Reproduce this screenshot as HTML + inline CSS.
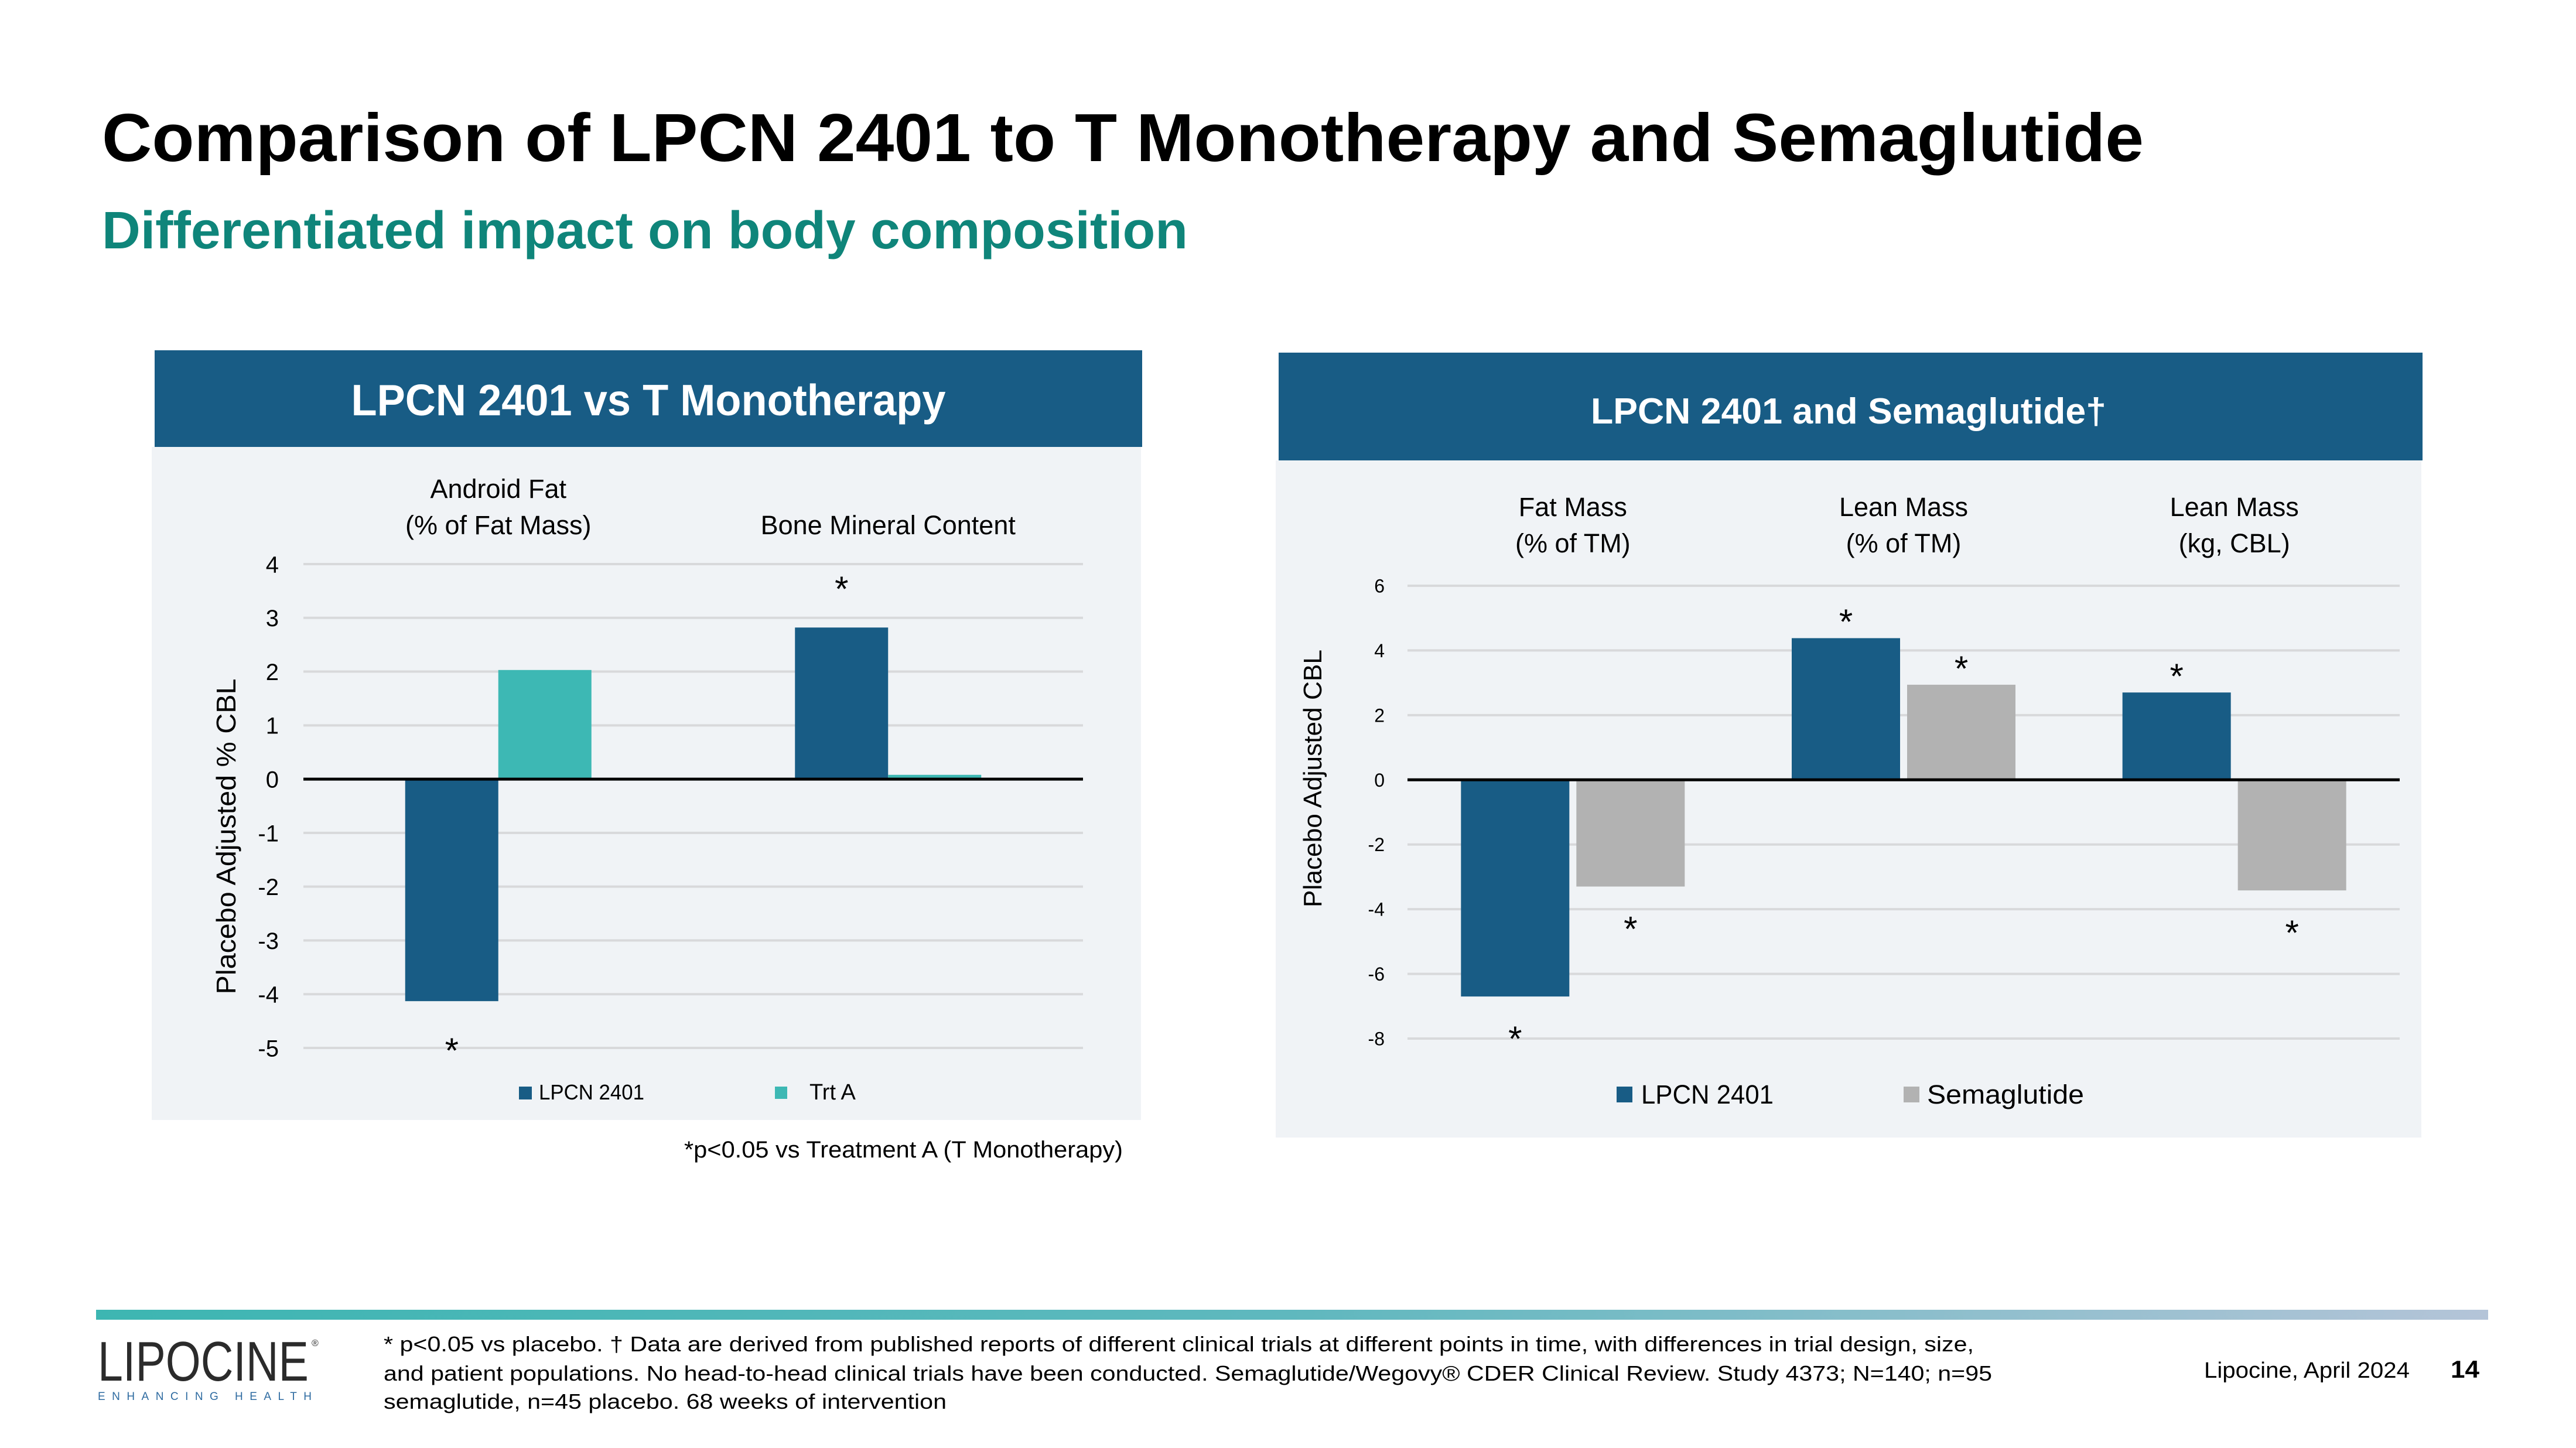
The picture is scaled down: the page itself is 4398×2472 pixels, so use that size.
<!DOCTYPE html>
<html><head><meta charset="utf-8"><style>
html,body{margin:0;padding:0;background:#fff;}
svg{display:block;font-family:"Liberation Sans",sans-serif;}
</style></head><body>
<svg id="slide" width="4398" height="2472" viewBox="0 0 4398 2472" xmlns="http://www.w3.org/2000/svg">
<defs><linearGradient id="fg" x1="0" x2="1" y1="0" y2="0"><stop offset="0" stop-color="#3db6b2"/><stop offset="0.5" stop-color="#5fb8be"/><stop offset="1" stop-color="#b4c4d8"/></linearGradient></defs>
<rect width="4398" height="2472" fill="#fff"/>
<text x="174" y="275" font-size="116" font-weight="bold" fill="#000" textLength="3486" lengthAdjust="spacingAndGlyphs">Comparison of LPCN 2401 to T Monotherapy and Semaglutide</text>
<text x="174" y="424" font-size="90" font-weight="bold" fill="#0f857a" textLength="1854" lengthAdjust="spacingAndGlyphs">Differentiated impact on body composition</text>

<g id="left">
<rect x="259" y="763" width="1689" height="1149" fill="#f0f3f6"/>
<rect x="264" y="598" width="1686" height="165" fill="#185c85"/>
<text x="1107" y="709" font-size="75" font-weight="bold" fill="#fff" text-anchor="middle" textLength="1015" lengthAdjust="spacingAndGlyphs">LPCN 2401 vs T Monotherapy</text>
<text transform="translate(402,1428) rotate(-90)" font-size="46" fill="#000" text-anchor="middle" textLength="539" lengthAdjust="spacingAndGlyphs">Placebo Adjusted % CBL</text>
<g id="lgrid"></g><g id="lbars"></g>
<rect x="886" y="1855" width="22" height="22" fill="#185c85"/>
<text x="920" y="1877" font-size="36" fill="#000" textLength="180" lengthAdjust="spacingAndGlyphs">LPCN 2401</text>
<rect x="1323" y="1855" width="21" height="21" fill="#3db8b4"/>
<text x="1382" y="1877" font-size="38" fill="#000">Trt A</text>
<text x="1917" y="1976" font-size="40" fill="#000" text-anchor="end" textLength="749" lengthAdjust="spacingAndGlyphs">*p&lt;0.05 vs Treatment A (T Monotherapy)</text>
</g>

<g id="right">
<rect x="2178" y="786" width="1956" height="1156" fill="#f0f3f6"/>
<rect x="2183" y="602" width="1953" height="184" fill="#185c85"/>
<text x="3156" y="723" font-size="62" font-weight="bold" fill="#fff" text-anchor="middle" textLength="880" lengthAdjust="spacingAndGlyphs">LPCN 2401 and Semaglutide†</text>
<text transform="translate(2256,1329) rotate(-90)" font-size="44" fill="#000" text-anchor="middle" textLength="440" lengthAdjust="spacingAndGlyphs">Placebo Adjusted CBL</text>
<g id="rgrid"></g><g id="rbars"></g>
<rect x="2760" y="1855" width="27" height="27" fill="#185c85"/>
<text x="2802" y="1884" font-size="45" fill="#000" textLength="226" lengthAdjust="spacingAndGlyphs">LPCN 2401</text>
<rect x="3250" y="1855" width="27" height="27" fill="#b2b2b2"/>
<text x="3290" y="1884" font-size="45" fill="#000" textLength="268" lengthAdjust="spacingAndGlyphs">Semaglutide</text>
</g>

<rect x="164" y="2236" width="4084" height="17" fill="url(#fg)"/>
<text x="167" y="2357" font-size="96" fill="#2b2b2b" textLength="360" lengthAdjust="spacingAndGlyphs">LIPOCINE</text>
<text x="532" y="2298" font-size="16" fill="#2b2b2b">®</text>
<text x="167" y="2390" font-size="19" fill="#2d6aa0" textLength="365" lengthAdjust="spacing">ENHANCING HEALTH</text>
<text x="655" y="2307" font-size="36" fill="#000" textLength="2715" lengthAdjust="spacingAndGlyphs">* p&lt;0.05 vs placebo. † Data are derived from published reports of different clinical trials at different points in time, with differences in trial design, size,</text>
<text x="655" y="2357" font-size="36" fill="#000" textLength="2746" lengthAdjust="spacingAndGlyphs">and patient populations. No head-to-head clinical trials have been conducted.  Semaglutide/Wegovy® CDER Clinical Review. Study 4373; N=140; n=95</text>
<text x="655" y="2405" font-size="36" fill="#000" textLength="961" lengthAdjust="spacingAndGlyphs">semaglutide, n=45 placebo. 68 weeks of intervention</text>
<text x="3763" y="2352" font-size="38" fill="#000" textLength="351" lengthAdjust="spacingAndGlyphs">Lipocine, April 2024</text>
<text x="4184" y="2352" font-size="42" font-weight="bold" fill="#000" textLength="49" lengthAdjust="spacingAndGlyphs">14</text>
</svg>
<script>
// Left chart data
const leftCategories = [["Android Fat","(% of Fat Mass)"],["Bone Mineral Content"]];
const leftLpcn = [-4.13, 2.82];
const leftTrtA = [2.03, 0.08];
const leftLpcnSig = [true, true];
const leftTicks = [4,3,2,1,0,-1,-2,-3,-4,-5];
// Right chart data
const rightCategories = [["Fat Mass","(% of TM)"],["Lean Mass","(% of TM)"],["Lean Mass","(kg, CBL)"]];
const rightLpcn = [-6.70, 4.38, 2.70];
const rightSema = [-3.30, 2.94, -3.42];
const rightLpcnSig = [true, true, true];
const rightSemaSig = [true, true, true];
const rightTicks = [6,4,2,0,-2,-4,-6,-8];

const NS = "http://www.w3.org/2000/svg";
function mk(tag, attrs, parent, txt){
  const e = document.createElementNS(NS, tag);
  for (const k in attrs) e.setAttribute(k, attrs[k]);
  if (txt !== undefined) e.textContent = txt;
  parent.appendChild(e); return e;
}
function drawChart(cfg){
  const {grid, bars, x0, x1, yTop, yBot, vMax, vMin, ticks, cats, s1, s2, c1, c2, barW, gap, tickX, tickFs, catFs, catY1, catY2, sig1, sig2, astFs, n1, n2, posOff, negOff} = cfg;
  const y = v => yTop + (vMax - v) * (yBot - yTop) / (vMax - vMin);
  const cw = (x1 - x0) / cats.length;
  ticks.forEach(t => {
    if (t !== 0) {
      const l = mk('line', {x1:x0, x2:x1, y1:y(t), y2:y(t), stroke:'#d8d9db', 'stroke-width':4}, grid);
      
      
    }
    const tx = mk('text', {x:tickX, y:y(t) + tickFs*0.36, 'font-size':tickFs, 'text-anchor':'end', fill:'#000'}, grid, String(t));
    
    
  });
  cats.forEach((lines, i) => {
    const cx = x0 + cw*(i + 0.5);
    const ys = lines.length === 2 ? [catY1, catY2] : [catY2];
    lines.forEach((ln, j) => {
      const t = mk('text', {x:cx, y:ys[j], 'font-size':catFs, 'text-anchor':'middle', fill:'#000'}, grid, ln);
      
      
    });
    [[s1, c1, -1, sig1, n1], [s2, c2, 1, sig2, n2]].forEach(([ser, col, side, sig, nm]) => {
      const v = ser[i];
      const bx = side < 0 ? cx - gap/2 - barW : cx + gap/2;
      const top = Math.min(y(v), y(0)), h = Math.abs(y(v) - y(0));
      const r = mk('rect', {x:bx, y:top, width:barW, height:Math.max(h,1), fill:col}, bars);
      
      
      if (sig && sig[i]) {
        const ay = v >= 0 ? y(v) - posOff : y(v) + negOff;
        const a = mk('text', {x:bx + barW/2, y:ay + astFs*0.58, 'font-size':astFs, 'text-anchor':'middle', fill:'#000'}, bars, '*');
        
        
      }
    });
  });
  const z = mk('line', {x1:x0, x2:x1, y1:y(0), y2:y(0), stroke:'#000', 'stroke-width':5}, bars);
  
  
}
drawChart({grid:document.getElementById('lgrid'), bars:document.getElementById('lbars'),
  x0:518, x1:1849, yTop:963, yBot:1789, vMax:4, vMin:-5, ticks:leftTicks, cats:leftCategories,
  s1:leftLpcn, s2:leftTrtA, c1:'#185c85', c2:'#3db8b4', barW:159, gap:0, tickX:476, tickFs:40, catFs:45,
  catY1:850, catY2:912, sig1:leftLpcnSig, sig2:null, astFs:60, n1:'lpcn', n2:'trta', posOff:80, negOff:70});
drawChart({grid:document.getElementById('rgrid'), bars:document.getElementById('rbars'),
  x0:2403, x1:4097, yTop:1000, yBot:1773, vMax:6, vMin:-8, ticks:rightTicks, cats:rightCategories,
  s1:rightLpcn, s2:rightSema, c1:'#185c85', c2:'#b2b2b2', barW:185, gap:12, tickX:2364, tickFs:32, catFs:45,
  catY1:881, catY2:943, sig1:rightLpcnSig, sig2:rightSemaSig, astFs:60, n1:'lpcn', n2:'semaglutide', posOff:42, negOff:58});
</script>
</body></html>
